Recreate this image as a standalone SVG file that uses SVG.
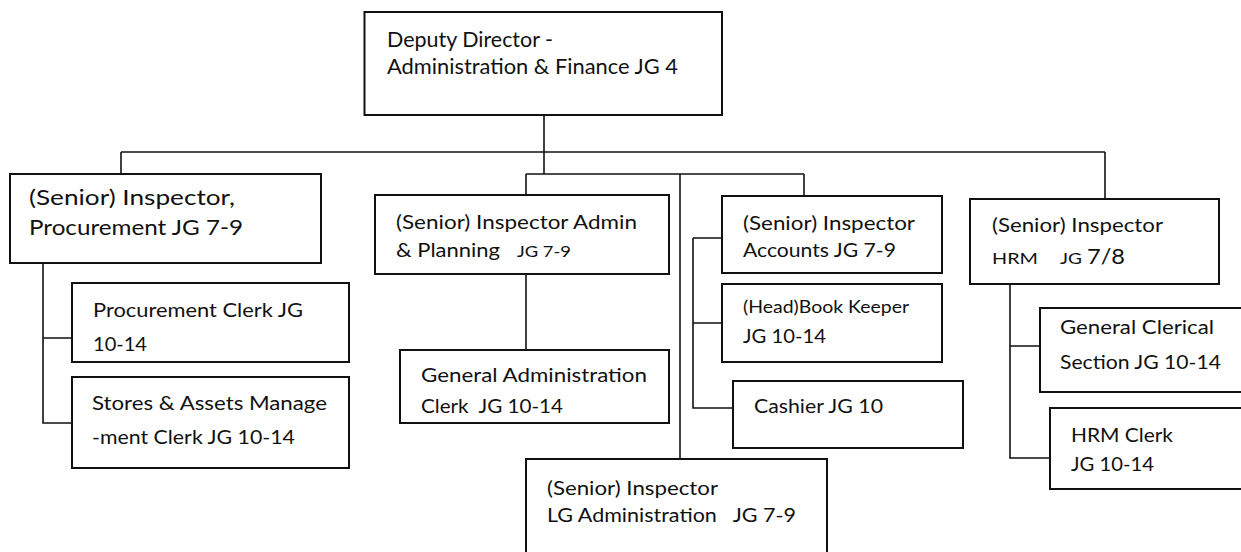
<svg xmlns="http://www.w3.org/2000/svg" width="1241" height="552" viewBox="0 0 1241 552">
  <style>
    .box { fill: #ffffff; stroke: #111111; stroke-width: 2; }
    .wire { fill: none; stroke: #111111; stroke-width: 1.6; }
    text { font-family: Lato, "Liberation Sans", sans-serif; fill: #111111; white-space: pre; }
    .t { font-size: 19.5px; }
    .big { font-size: 21.5px; }
    .top { font-size: 20.5px; }
    .sm { font-size: 16px; }
    .bk { font-size: 17.5px; }
  </style>
  <rect width="1241" height="552" fill="#ffffff"/>

  <!-- connectors -->
  <g id="connectors">
    <path class="wire" d="M121 152 H1105"/>
    <path class="wire" d="M544 115 V174"/>
    <path class="wire" d="M121 152 V174"/>
    <path class="wire" d="M1105 152 V199"/>
    <path class="wire" d="M526 174 H804"/>
    <path class="wire" d="M526 174 V195"/>
    <path class="wire" d="M804 174 V196"/>
    <path class="wire" d="M680 174 V459"/>
    <path class="wire" d="M43 263 V423 H72 M43 338 H72"/>
    <path class="wire" d="M526 274 V350"/>
    <path class="wire" d="M693 238 V408 H733 M693 238 H722 M693 323 H722"/>
    <path class="wire" d="M1010 284 V458 H1050 M1010 346 H1040"/>
  </g>

  <g id="deputy-director">
    <rect class="box" x="364.5" y="12" width="357.5" height="103"/>
    <text class="top" x="387" y="47" textLength="166" lengthAdjust="spacingAndGlyphs">Deputy Director -</text>
    <text class="top" x="387" y="74" textLength="291" lengthAdjust="spacingAndGlyphs">Administration &amp; Finance JG 4</text>
  </g>

  <g id="inspector-procurement">
    <rect class="box" x="10" y="174" width="311" height="89"/>
    <text class="big" x="29" y="205" textLength="206" lengthAdjust="spacingAndGlyphs">(Senior) Inspector,</text>
    <text class="big" x="29" y="235" textLength="214" lengthAdjust="spacingAndGlyphs">Procurement JG 7-9</text>
  </g>

  <g id="procurement-clerk">
    <rect class="box" x="72" y="283" width="277" height="79"/>
    <text class="t" x="93" y="317" textLength="210" lengthAdjust="spacingAndGlyphs">Procurement Clerk JG</text>
    <text class="t" x="93" y="351" textLength="54" lengthAdjust="spacingAndGlyphs">10-14</text>
  </g>

  <g id="stores-clerk">
    <rect class="box" x="72" y="377" width="277" height="91"/>
    <text class="t" x="92" y="410" textLength="235" lengthAdjust="spacingAndGlyphs">Stores &amp; Assets Manage</text>
    <text class="t" x="92" y="444" textLength="203" lengthAdjust="spacingAndGlyphs">-ment Clerk JG 10-14</text>
  </g>

  <g id="inspector-admin">
    <rect class="box" x="375" y="195" width="294" height="79"/>
    <text class="t" x="396" y="229" textLength="241" lengthAdjust="spacingAndGlyphs">(Senior) Inspector Admin</text>
    <text class="t" x="396" y="257" textLength="104" lengthAdjust="spacingAndGlyphs">&amp; Planning</text>
    <text class="sm" x="517" y="257" textLength="54" lengthAdjust="spacingAndGlyphs">JG 7-9</text>
  </g>

  <g id="general-admin-clerk">
    <rect class="box" x="400" y="350" width="269" height="73"/>
    <text class="t" x="421" y="382" textLength="226" lengthAdjust="spacingAndGlyphs">General Administration</text>
    <text class="t" x="421" y="413" textLength="142" lengthAdjust="spacingAndGlyphs" xml:space="preserve">Clerk  JG 10-14</text>
  </g>

  <g id="inspector-lg">
    <rect class="box" x="526" y="459" width="301" height="100"/>
    <text class="t" x="547" y="495" textLength="171" lengthAdjust="spacingAndGlyphs">(Senior) Inspector</text>
    <text class="t" x="547" y="522" textLength="249" lengthAdjust="spacingAndGlyphs" xml:space="preserve">LG Administration   JG 7-9</text>
  </g>

  <g id="inspector-accounts">
    <rect class="box" x="722" y="196" width="220" height="77"/>
    <text class="t" x="743" y="230" textLength="172" lengthAdjust="spacingAndGlyphs">(Senior) Inspector</text>
    <text class="t" x="743" y="257" textLength="153" lengthAdjust="spacingAndGlyphs">Accounts JG 7-9</text>
  </g>

  <g id="book-keeper">
    <rect class="box" x="722" y="284" width="220" height="78"/>
    <text class="bk" x="743" y="313" textLength="166" lengthAdjust="spacingAndGlyphs">(Head)Book Keeper</text>
    <text class="t" x="743" y="343" textLength="83" lengthAdjust="spacingAndGlyphs">JG 10-14</text>
  </g>

  <g id="cashier">
    <rect class="box" x="733" y="381" width="230" height="67"/>
    <text class="t" x="754" y="413" textLength="129" lengthAdjust="spacingAndGlyphs">Cashier JG 10</text>
  </g>

  <g id="inspector-hrm">
    <rect class="box" x="970" y="199" width="249" height="85"/>
    <text class="t" x="992" y="232" textLength="171" lengthAdjust="spacingAndGlyphs">(Senior) Inspector</text>
    <text class="sm" x="992" y="264" textLength="46" lengthAdjust="spacingAndGlyphs">HRM</text>
    <text class="sm" x="1060" y="264" textLength="22" lengthAdjust="spacingAndGlyphs">JG</text>
    <text class="top" x="1087" y="264" textLength="38" lengthAdjust="spacingAndGlyphs">7/8</text>
  </g>

  <g id="general-clerical">
    <rect class="box" x="1040" y="308" width="210" height="84"/>
    <text class="t" x="1060" y="334" textLength="154" lengthAdjust="spacingAndGlyphs">General Clerical</text>
    <text class="t" x="1060" y="369" textLength="161" lengthAdjust="spacingAndGlyphs">Section JG 10-14</text>
  </g>

  <g id="hrm-clerk">
    <rect class="box" x="1050" y="408" width="200" height="81"/>
    <text class="t" x="1071" y="442" textLength="102" lengthAdjust="spacingAndGlyphs">HRM Clerk</text>
    <text class="t" x="1071" y="471" textLength="83" lengthAdjust="spacingAndGlyphs">JG 10-14</text>
  </g>
</svg>
